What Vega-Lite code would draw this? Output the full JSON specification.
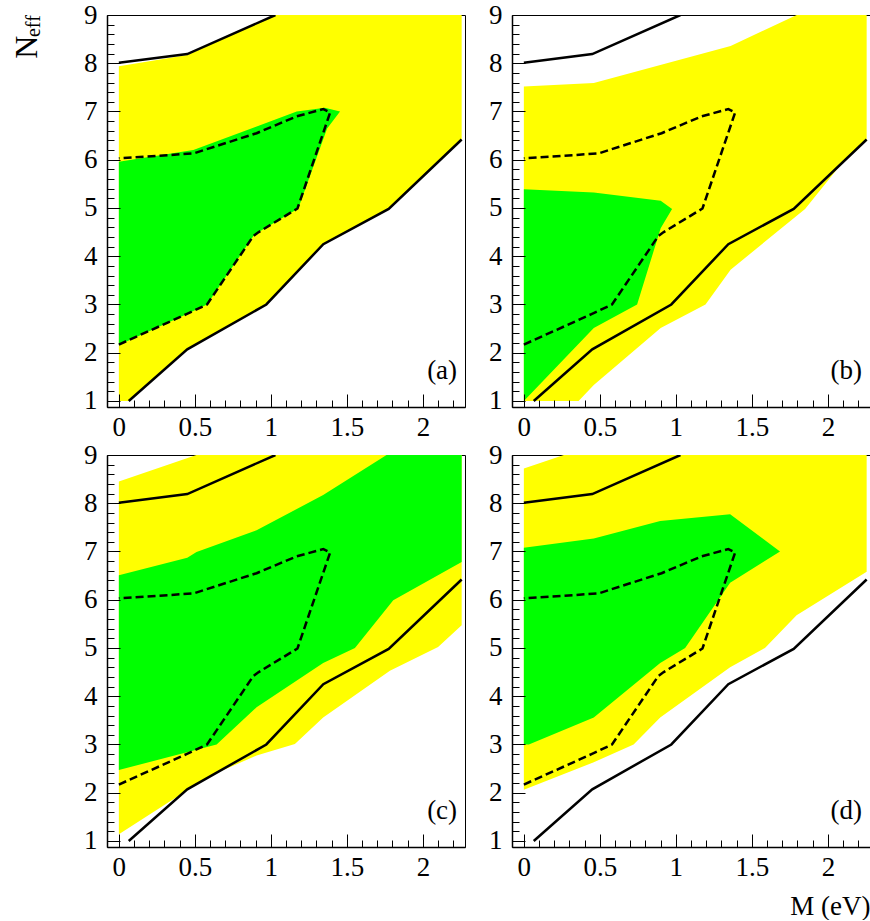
{
"$schema": "https://vega.github.io/schema/vega-lite/v6.json",
"padding": {"left": 10, "top": 0, "right": 0, "bottom": 0},
"datasets": {
"solid": [
{"g":"u","i":0,"m":0,"n":8.01},{"g":"u","i":1,"m":0.45,"n":8.19},{"g":"u","i":2,"m":1.03,"n":9.0},
{"g":"l","i":0,"m":0.065,"n":1.0},{"g":"l","i":1,"m":0.45,"n":2.07},{"g":"l","i":2,"m":0.97,"n":3.0},{"g":"l","i":3,"m":1.345,"n":4.25},{"g":"l","i":4,"m":1.775,"n":4.98},{"g":"l","i":5,"m":2.255,"n":6.42}
],
"dashed": [
{"i":0,"m":0,"n":2.17},{"i":1,"m":0.445,"n":2.8},{"i":2,"m":0.58,"n":3.0},{"i":3,"m":0.885,"n":4.42},{"i":4,"m":0.92,"n":4.5},{"i":5,"m":1.175,"n":4.99},{"i":6,"m":1.39,"n":6.98},{"i":7,"m":1.345,"n":7.05},{"i":8,"m":1.17,"n":6.9},{"i":9,"m":0.906,"n":6.55},{"i":10,"m":0.49,"n":6.13},{"i":11,"m":0,"n":6.03}
],
"ya": [
{"i":0,"m":0,"n":1.0},{"i":1,"m":0.065,"n":1.0},{"i":2,"m":0.45,"n":2.07},{"i":3,"m":0.97,"n":3.0},{"i":4,"m":1.345,"n":4.25},{"i":5,"m":1.775,"n":4.98},{"i":6,"m":2.255,"n":6.42},{"i":7,"m":2.255,"n":9.0},{"i":8,"m":1.03,"n":9.0},{"i":9,"m":0.45,"n":8.17},{"i":10,"m":0,"n":7.94}
],
"ga": [
{"i":0,"m":0,"n":2.16},{"i":1,"m":0.445,"n":2.8},{"i":2,"m":0.58,"n":3.0},{"i":3,"m":0.885,"n":4.42},{"i":4,"m":0.92,"n":4.5},{"i":5,"m":1.18,"n":4.99},{"i":6,"m":1.37,"n":6.65},{"i":7,"m":1.455,"n":7.0},{"i":8,"m":1.355,"n":7.08},{"i":9,"m":1.17,"n":7.0},{"i":10,"m":0.49,"n":6.2},{"i":11,"m":0,"n":5.96}
],
"yb": [
{"i":0,"m":0,"n":1.0},{"i":1,"m":0.36,"n":1.0},{"i":2,"m":0.46,"n":1.33},{"i":3,"m":0.9,"n":2.51},{"i":4,"m":1.195,"n":3.0},{"i":5,"m":1.36,"n":3.72},{"i":6,"m":1.85,"n":4.98},{"i":7,"m":2.1,"n":5.96},{"i":8,"m":2.255,"n":6.42},{"i":9,"m":2.255,"n":9.0},{"i":10,"m":1.795,"n":9.0},{"i":11,"m":1.36,"n":8.36},{"i":12,"m":0.46,"n":7.59},{"i":13,"m":0,"n":7.52}
],
"gb": [
{"i":0,"m":0,"n":1.0},{"i":1,"m":0.46,"n":2.51},{"i":2,"m":0.745,"n":3.0},{"i":3,"m":0.9,"n":4.58},{"i":4,"m":0.975,"n":4.98},{"i":5,"m":0.9,"n":5.15},{"i":6,"m":0.46,"n":5.32},{"i":7,"m":0,"n":5.39}
],
"yc": [
{"i":0,"m":0,"n":1.14},{"i":1,"m":0.45,"n":2.05},{"i":2,"m":0.62,"n":2.38},{"i":3,"m":0.906,"n":2.77},{"i":4,"m":1.158,"n":3.01},{"i":5,"m":1.344,"n":3.56},{"i":6,"m":1.783,"n":4.53},{"i":7,"m":2.1,"n":5.02},{"i":8,"m":2.255,"n":5.47},{"i":9,"m":2.255,"n":9.0},{"i":10,"m":0.51,"n":9.0},{"i":11,"m":0,"n":8.45}
],
"gc": [
{"i":0,"m":0,"n":2.47},{"i":1,"m":0.643,"n":3.0},{"i":2,"m":0.906,"n":3.77},{"i":3,"m":1.344,"n":4.69},{"i":4,"m":1.553,"n":5.0},{"i":5,"m":1.805,"n":5.99},{"i":6,"m":2.255,"n":6.78},{"i":7,"m":2.255,"n":9.0},{"i":8,"m":1.761,"n":9.0},{"i":9,"m":1.344,"n":8.17},{"i":10,"m":0.906,"n":7.44},{"i":11,"m":0.511,"n":6.99},{"i":12,"m":0.45,"n":6.87},{"i":13,"m":0,"n":6.51}
],
"yd": [
{"i":0,"m":0,"n":2.06},{"i":1,"m":0.46,"n":2.63},{"i":2,"m":0.722,"n":3.0},{"i":3,"m":0.897,"n":3.56},{"i":4,"m":1.357,"n":4.6},{"i":5,"m":1.586,"n":5.0},{"i":6,"m":1.794,"n":5.68},{"i":7,"m":2.255,"n":6.58},{"i":8,"m":2.255,"n":9.0},{"i":9,"m":0.263,"n":9.0},{"i":10,"m":0,"n":8.72}
],
"gd": [
{"i":0,"m":0,"n":3.0},{"i":1,"m":0.033,"n":3.0},{"i":2,"m":0.46,"n":3.56},{"i":3,"m":0.897,"n":4.69},{"i":4,"m":1.061,"n":5.0},{"i":5,"m":1.357,"n":6.35},{"i":6,"m":1.685,"n":7.0},{"i":7,"m":1.357,"n":7.77},{"i":8,"m":0.897,"n":7.63},{"i":9,"m":0.46,"n":7.27},{"i":10,"m":0,"n":7.08}
]
},
"columns": 2,
"spacing": {"row": 48, "column": 47},
"bounds": "flush",
"concat": [
{
"width": 358, "height": 392,
"resolve": {"axis": {"x": "independent", "y": "independent"}},
"layer": [
{"data": {"name": "ya"}, "mark": {"type": "line", "interpolate": "linear-closed", "fill": "#ffff00", "strokeWidth": 0, "clip": true},
 "encoding": {"x": {"field": "m", "type": "quantitative", "scale": {"domain": [-0.078, 2.277], "nice": false, "zero": false}, "axis": {"orient": "bottom", "zindex": 2, "values": [0, 0.5, 1, 1.5, 2], "format": "~g", "tickSize": -13, "labelPadding": 20, "domainWidth": 1.5, "grid": false, "title": null}},
  "y": {"field": "n", "type": "quantitative", "scale": {"domain": [0.875, 9], "nice": false, "zero": false}, "axis": {"orient": "left", "zindex": 2, "values": [1, 2, 3, 4, 5, 6, 7, 8, 9], "format": "~g", "tickSize": -13, "labelPadding": 23, "domainWidth": 1.5, "grid": false, "title": null}},
  "order": {"field": "i", "type": "quantitative"}}},
{"data": {"name": "ga"}, "mark": {"type": "line", "interpolate": "linear-closed", "fill": "#00ff00", "strokeWidth": 0, "clip": true},
 "encoding": {"x": {"field": "m", "type": "quantitative", "axis": {"orient": "bottom", "zindex": 2, "values": [0.1,0.2,0.3,0.4,0.6,0.7,0.8,0.9,1.1,1.2,1.3,1.4,1.6,1.7,1.8,1.9,2.1,2.2], "tickSize": -7, "labels": false, "domain": false, "grid": false, "title": null}},
  "y": {"field": "n", "type": "quantitative", "axis": {"orient": "left", "zindex": 2, "values": [1.2,1.4,1.6,1.8,2.2,2.4,2.6,2.8,3.2,3.4,3.6,3.8,4.2,4.4,4.6,4.8,5.2,5.4,5.6,5.8,6.2,6.4,6.6,6.8,7.2,7.4,7.6,7.8,8.2,8.4,8.6,8.8], "tickSize": -7, "labels": false, "domain": false, "grid": false, "title": null}},
  "order": {"field": "i", "type": "quantitative"}}},
{"data": {"name": "dashed"}, "mark": {"type": "line", "color": "#000", "strokeWidth": 2.5, "strokeDash": [8, 4], "clip": true},
 "encoding": {"x": {"field": "m", "type": "quantitative", "axis": null}, "y": {"field": "n", "type": "quantitative", "axis": null}, "order": {"field": "i", "type": "quantitative"}}},
{"data": {"name": "solid"}, "mark": {"type": "line", "color": "#000", "strokeWidth": 2.5, "clip": true},
 "encoding": {"x": {"field": "m", "type": "quantitative", "axis": null}, "y": {"field": "n", "type": "quantitative", "axis": null}, "detail": {"field": "g"}, "order": {"field": "i", "type": "quantitative"}}},
{"data": {"values": [{"m": 2.225, "n": 1.46, "t": "(a)"}]}, "mark": {"type": "text", "align": "right", "baseline": "alphabetic", "fontSize": 27, "font": "Liberation Serif", "color": "#000"},
 "encoding": {"x": {"field": "m", "type": "quantitative", "axis": null}, "y": {"field": "n", "type": "quantitative", "axis": null}, "text": {"field": "t"}}},
{"data": {"values": [{"m": -0.539, "n": 8.33, "t": "N"}]}, "mark": {"type": "text", "align": "center", "baseline": "alphabetic", "angle": 270, "fontSize": 32, "font": "Liberation Serif", "color": "#000"},
 "encoding": {"x": {"field": "m", "type": "quantitative", "axis": null}, "y": {"field": "n", "type": "quantitative", "axis": null}, "text": {"field": "t"}}},
{"data": {"values": [{"m": -0.522, "n": 8.77, "t": "eff"}]}, "mark": {"type": "text", "align": "center", "baseline": "alphabetic", "angle": 270, "fontSize": 20, "font": "Liberation Serif", "color": "#000"},
 "encoding": {"x": {"field": "m", "type": "quantitative", "axis": null}, "y": {"field": "n", "type": "quantitative", "axis": null}, "text": {"field": "t"}}}
]
},
{
"width": 358, "height": 392,
"resolve": {"axis": {"x": "independent", "y": "independent"}},
"layer": [
{"data": {"name": "yb"}, "mark": {"type": "line", "interpolate": "linear-closed", "fill": "#ffff00", "strokeWidth": 0, "clip": true},
 "encoding": {"x": {"field": "m", "type": "quantitative", "scale": {"domain": [-0.078, 2.277], "nice": false, "zero": false}, "axis": {"orient": "bottom", "zindex": 2, "values": [0, 0.5, 1, 1.5, 2], "format": "~g", "tickSize": -13, "labelPadding": 20, "domainWidth": 1.5, "grid": false, "title": null}},
  "y": {"field": "n", "type": "quantitative", "scale": {"domain": [0.875, 9], "nice": false, "zero": false}, "axis": {"orient": "left", "zindex": 2, "values": [1, 2, 3, 4, 5, 6, 7, 8, 9], "format": "~g", "tickSize": -13, "labelPadding": 23, "domainWidth": 1.5, "grid": false, "title": null}},
  "order": {"field": "i", "type": "quantitative"}}},
{"data": {"name": "gb"}, "mark": {"type": "line", "interpolate": "linear-closed", "fill": "#00ff00", "strokeWidth": 0, "clip": true},
 "encoding": {"x": {"field": "m", "type": "quantitative", "axis": {"orient": "bottom", "zindex": 2, "values": [0.1,0.2,0.3,0.4,0.6,0.7,0.8,0.9,1.1,1.2,1.3,1.4,1.6,1.7,1.8,1.9,2.1,2.2], "tickSize": -7, "labels": false, "domain": false, "grid": false, "title": null}},
  "y": {"field": "n", "type": "quantitative", "axis": {"orient": "left", "zindex": 2, "values": [1.2,1.4,1.6,1.8,2.2,2.4,2.6,2.8,3.2,3.4,3.6,3.8,4.2,4.4,4.6,4.8,5.2,5.4,5.6,5.8,6.2,6.4,6.6,6.8,7.2,7.4,7.6,7.8,8.2,8.4,8.6,8.8], "tickSize": -7, "labels": false, "domain": false, "grid": false, "title": null}},
  "order": {"field": "i", "type": "quantitative"}}},
{"data": {"name": "dashed"}, "mark": {"type": "line", "color": "#000", "strokeWidth": 2.5, "strokeDash": [8, 4], "clip": true},
 "encoding": {"x": {"field": "m", "type": "quantitative", "axis": null}, "y": {"field": "n", "type": "quantitative", "axis": null}, "order": {"field": "i", "type": "quantitative"}}},
{"data": {"name": "solid"}, "mark": {"type": "line", "color": "#000", "strokeWidth": 2.5, "clip": true},
 "encoding": {"x": {"field": "m", "type": "quantitative", "axis": null}, "y": {"field": "n", "type": "quantitative", "axis": null}, "detail": {"field": "g"}, "order": {"field": "i", "type": "quantitative"}}},
{"data": {"values": [{"m": 2.225, "n": 1.46, "t": "(b)"}]}, "mark": {"type": "text", "align": "right", "baseline": "alphabetic", "fontSize": 27, "font": "Liberation Serif", "color": "#000"},
 "encoding": {"x": {"field": "m", "type": "quantitative", "axis": null}, "y": {"field": "n", "type": "quantitative", "axis": null}, "text": {"field": "t"}}}
]
},
{
"width": 358, "height": 392,
"resolve": {"axis": {"x": "independent", "y": "independent"}},
"layer": [
{"data": {"name": "yc"}, "mark": {"type": "line", "interpolate": "linear-closed", "fill": "#ffff00", "strokeWidth": 0, "clip": true},
 "encoding": {"x": {"field": "m", "type": "quantitative", "scale": {"domain": [-0.078, 2.277], "nice": false, "zero": false}, "axis": {"orient": "bottom", "zindex": 2, "values": [0, 0.5, 1, 1.5, 2], "format": "~g", "tickSize": -13, "labelPadding": 20, "domainWidth": 1.5, "grid": false, "title": null}},
  "y": {"field": "n", "type": "quantitative", "scale": {"domain": [0.875, 9], "nice": false, "zero": false}, "axis": {"orient": "left", "zindex": 2, "values": [1, 2, 3, 4, 5, 6, 7, 8, 9], "format": "~g", "tickSize": -13, "labelPadding": 23, "domainWidth": 1.5, "grid": false, "title": null}},
  "order": {"field": "i", "type": "quantitative"}}},
{"data": {"name": "gc"}, "mark": {"type": "line", "interpolate": "linear-closed", "fill": "#00ff00", "strokeWidth": 0, "clip": true},
 "encoding": {"x": {"field": "m", "type": "quantitative", "axis": {"orient": "bottom", "zindex": 2, "values": [0.1,0.2,0.3,0.4,0.6,0.7,0.8,0.9,1.1,1.2,1.3,1.4,1.6,1.7,1.8,1.9,2.1,2.2], "tickSize": -7, "labels": false, "domain": false, "grid": false, "title": null}},
  "y": {"field": "n", "type": "quantitative", "axis": {"orient": "left", "zindex": 2, "values": [1.2,1.4,1.6,1.8,2.2,2.4,2.6,2.8,3.2,3.4,3.6,3.8,4.2,4.4,4.6,4.8,5.2,5.4,5.6,5.8,6.2,6.4,6.6,6.8,7.2,7.4,7.6,7.8,8.2,8.4,8.6,8.8], "tickSize": -7, "labels": false, "domain": false, "grid": false, "title": null}},
  "order": {"field": "i", "type": "quantitative"}}},
{"data": {"name": "dashed"}, "mark": {"type": "line", "color": "#000", "strokeWidth": 2.5, "strokeDash": [8, 4], "clip": true},
 "encoding": {"x": {"field": "m", "type": "quantitative", "axis": null}, "y": {"field": "n", "type": "quantitative", "axis": null}, "order": {"field": "i", "type": "quantitative"}}},
{"data": {"name": "solid"}, "mark": {"type": "line", "color": "#000", "strokeWidth": 2.5, "clip": true},
 "encoding": {"x": {"field": "m", "type": "quantitative", "axis": null}, "y": {"field": "n", "type": "quantitative", "axis": null}, "detail": {"field": "g"}, "order": {"field": "i", "type": "quantitative"}}},
{"data": {"values": [{"m": 2.225, "n": 1.46, "t": "(c)"}]}, "mark": {"type": "text", "align": "right", "baseline": "alphabetic", "fontSize": 27, "font": "Liberation Serif", "color": "#000"},
 "encoding": {"x": {"field": "m", "type": "quantitative", "axis": null}, "y": {"field": "n", "type": "quantitative", "axis": null}, "text": {"field": "t"}}}
]
},
{
"width": 358, "height": 392,
"resolve": {"axis": {"x": "independent", "y": "independent"}},
"layer": [
{"data": {"name": "yd"}, "mark": {"type": "line", "interpolate": "linear-closed", "fill": "#ffff00", "strokeWidth": 0, "clip": true},
 "encoding": {"x": {"field": "m", "type": "quantitative", "scale": {"domain": [-0.078, 2.277], "nice": false, "zero": false}, "axis": {"orient": "bottom", "zindex": 2, "values": [0, 0.5, 1, 1.5, 2], "format": "~g", "tickSize": -13, "labelPadding": 20, "domainWidth": 1.5, "grid": false, "title": "M (eV)", "titleAnchor": "end", "titleFont": "Liberation Serif", "titleFontSize": 27, "titleFontWeight": "normal", "titleColor": "#000", "titlePadding": 13}},
  "y": {"field": "n", "type": "quantitative", "scale": {"domain": [0.875, 9], "nice": false, "zero": false}, "axis": {"orient": "left", "zindex": 2, "values": [1, 2, 3, 4, 5, 6, 7, 8, 9], "format": "~g", "tickSize": -13, "labelPadding": 23, "domainWidth": 1.5, "grid": false, "title": null}},
  "order": {"field": "i", "type": "quantitative"}}},
{"data": {"name": "gd"}, "mark": {"type": "line", "interpolate": "linear-closed", "fill": "#00ff00", "strokeWidth": 0, "clip": true},
 "encoding": {"x": {"field": "m", "type": "quantitative", "axis": {"orient": "bottom", "zindex": 2, "values": [0.1,0.2,0.3,0.4,0.6,0.7,0.8,0.9,1.1,1.2,1.3,1.4,1.6,1.7,1.8,1.9,2.1,2.2], "tickSize": -7, "labels": false, "domain": false, "grid": false, "title": null}},
  "y": {"field": "n", "type": "quantitative", "axis": {"orient": "left", "zindex": 2, "values": [1.2,1.4,1.6,1.8,2.2,2.4,2.6,2.8,3.2,3.4,3.6,3.8,4.2,4.4,4.6,4.8,5.2,5.4,5.6,5.8,6.2,6.4,6.6,6.8,7.2,7.4,7.6,7.8,8.2,8.4,8.6,8.8], "tickSize": -7, "labels": false, "domain": false, "grid": false, "title": null}},
  "order": {"field": "i", "type": "quantitative"}}},
{"data": {"name": "dashed"}, "mark": {"type": "line", "color": "#000", "strokeWidth": 2.5, "strokeDash": [8, 4], "clip": true},
 "encoding": {"x": {"field": "m", "type": "quantitative", "axis": null}, "y": {"field": "n", "type": "quantitative", "axis": null}, "order": {"field": "i", "type": "quantitative"}}},
{"data": {"name": "solid"}, "mark": {"type": "line", "color": "#000", "strokeWidth": 2.5, "clip": true},
 "encoding": {"x": {"field": "m", "type": "quantitative", "axis": null}, "y": {"field": "n", "type": "quantitative", "axis": null}, "detail": {"field": "g"}, "order": {"field": "i", "type": "quantitative"}}},
{"data": {"values": [{"m": 2.225, "n": 1.46, "t": "(d)"}]}, "mark": {"type": "text", "align": "right", "baseline": "alphabetic", "fontSize": 27, "font": "Liberation Serif", "color": "#000"},
 "encoding": {"x": {"field": "m", "type": "quantitative", "axis": null}, "y": {"field": "n", "type": "quantitative", "axis": null}, "text": {"field": "t"}}}
]
}
],
"config": {
"font": "Liberation Serif",
"background": "#ffffff",
"view": {"stroke": "#000", "strokeWidth": 1},
"axis": {"labelFont": "Liberation Serif", "labelFontSize": 27, "labelColor": "#000", "tickColor": "#000", "tickWidth": 1, "domainColor": "#000", "labelFlush": false, "labelOverlap": false}
}
}
